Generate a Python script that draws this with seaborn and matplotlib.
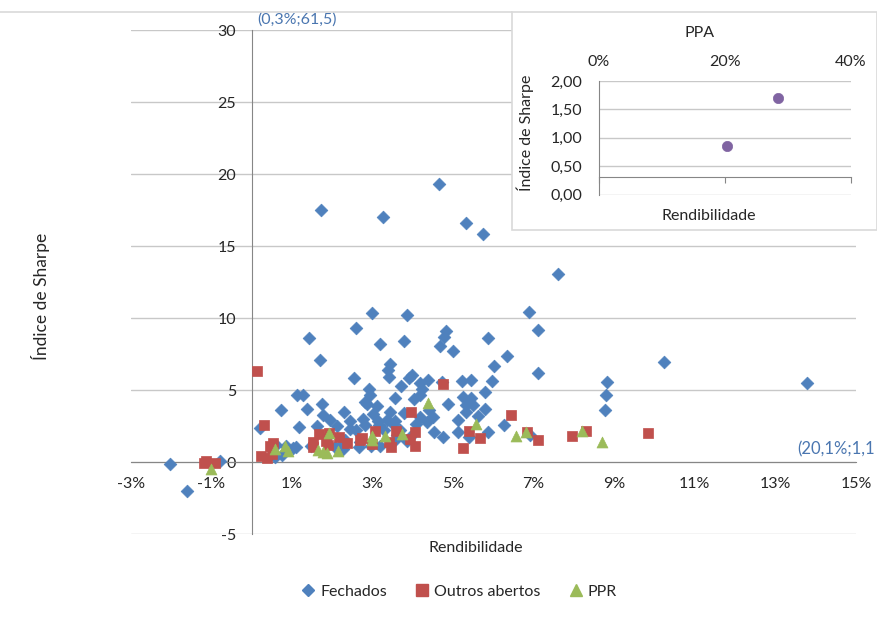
import matplotlib
matplotlib.use("Agg")
import matplotlib.pyplot as plt
import pandas as pd
import seaborn as sns
from matplotlib.lines import Line2D
from matplotlib.patches import Rectangle

# Rendibilidade (%) e Indice de Sharpe por fundo
fech_x = [4.65, 1.72, 3.26, 5.32, 5.74, 7.60, 6.89, 2.99, 3.86, 7.10, 2.59, 4.83, 4.78, 1.43,
          5.87, 3.79, 3.19, 4.67, 4.99, 1.69, 6.34, 6.01, 10.24, 3.43, 7.11, 3.98, 3.39, 3.41,
          2.54, 3.91, 4.38, 4.17, 3.71, 5.45, 5.22, 4.73, 8.82, 13.78, 5.97, 4.17, 4.24, 2.91,
          2.94, 1.13, 1.28, 8.79, 5.25, 5.45, 5.80, 2.81, 2.86, 3.12, 1.75, 3.56, 4.04, 4.88,
          5.32, 5.50, 0.73, 1.37, 1.78, 2.30, 3.44, 3.79, 4.41, 5.80, 8.76, 5.32, 5.62, 4.19,
          4.50, 2.44, 3.13, 3.56, 4.36, 5.12, 1.18, 0.21, 1.62, 2.12, 2.81, 3.16, 3.51, 6.26,
          4.08, 2.44, 2.59, 3.29, 3.68, 4.53, 5.12, 5.87, 6.91, 1.87, 2.32, 2.69, 3.56, 3.93,
          4.75, 5.40, 1.48, 2.07, 2.27, 2.67, 2.96, 0.85, 1.03, 0.60, 0.76, 0.58, 1.10, 3.86,
          3.19, 2.76, 3.02, 3.35, 3.62, 2.22, 1.95, -0.78, -2.03, -1.60]
fech_y = [19.3, 17.5, 17.0, 16.6, 15.8, 13.05, 10.4, 10.35, 10.2, 9.2, 9.3, 9.1, 8.7, 8.6,
          8.6, 8.4, 8.2, 8.05, 7.7, 7.1, 7.35, 6.65, 6.95, 6.8, 6.2, 6.05, 6.4, 5.9,
          5.8, 5.8, 5.7, 5.5, 5.3, 5.7, 5.6, 5.55, 5.55, 5.5, 5.6, 4.65, 5.1, 5.07,
          4.65, 4.65, 4.65, 4.65, 4.5, 4.45, 4.85, 4.2, 4.0, 3.9, 4.0, 4.45, 4.35, 4.0,
          3.95, 3.95, 3.6, 3.7, 3.25, 3.5, 3.5, 3.4, 3.6, 3.7, 3.6, 3.5, 3.2, 3.1,
          3.1, 2.85, 2.85, 2.85, 2.8, 2.9, 2.4, 2.35, 2.5, 2.5, 2.55, 2.55, 2.65, 2.55,
          2.65, 2.3, 2.2, 2.2, 2.2, 2.1, 2.1, 2.1, 1.85, 1.75, 1.55, 1.4, 1.55, 1.75,
          1.75, 1.75, 1.1, 1.05, 0.9, 1.05, 1.1, 1.1, 0.95, 1.2, 0.5, 0.35, 1.05, 1.45,
          1.1, 3.0, 3.3, 2.9, 1.9, 1.2, 2.9, 0.05, -0.15, -2.0]

outros_x = [0.13, 4.75, 3.96, 6.45, 0.31, 1.67, 1.92, 3.06, 4.05, 5.39, 6.83, 8.30, 9.84, 7.95,
            2.17, 2.74, 3.59, 5.67, 7.11, 3.93, 0.53, 1.53, 1.85, 2.70, 3.41, 0.46, 3.46, 4.05,
            1.53, 2.37, 1.90, 2.99, 5.25, 0.24, 0.38, 0.51, -1.18, -0.90, -1.13]
outros_y = [6.3, 5.4, 3.45, 3.25, 2.55, 1.95, 2.0, 2.15, 2.1, 2.15, 2.1, 2.15, 2.0, 1.8,
            1.75, 1.65, 2.15, 1.65, 1.5, 1.6, 1.3, 1.4, 1.45, 1.5, 1.4, 1.1, 1.05, 1.1,
            1.05, 1.3, 1.2, 1.25, 0.95, 0.4, 0.3, 0.55, -0.1, -0.1, 0.05]

ppr_x = [4.38, 5.56, 6.80, 6.55, 8.20, 8.70, 3.31, 2.99, 2.99, 1.92, 0.83, 0.58, 0.90, 1.65,
         1.87, 2.15, 1.77, 3.73, -1.00]
ppr_y = [4.1, 2.65, 2.1, 1.8, 2.15, 1.4, 1.8, 1.8, 1.5, 2.0, 1.1, 0.9, 0.75, 0.85,
         0.6, 0.75, 0.7, 1.95, -0.5]

ppa_x = [20.3, 28.5]
ppa_y = [0.85, 1.70]

x_ticks = [-3, -1, 1, 3, 5, 7, 9, 11, 13, 15]
y_ticks = [-5, 0, 5, 10, 15, 20, 25, 30]
ppa_xticks = [0, 20, 40]
ppa_yticks = [0, 0.5, 1.0, 1.5, 2.0]

blue = "#4F81BD"
red = "#C0504D"
green = "#9BBB59"
purple = "#8064A2"
axis_grey = "#868686"
grid_grey = "#C8C8C8"
txt = "#262626"

sns.set_style("white")
plt.rcParams['font.family'] = ['Lato', 'DejaVu Sans']

fig = plt.figure(figsize=(8.77, 6.17), dpi=100)
W, H = 877, 617

def fx(px):
    return px / W

def fy(py):
    return 1 - py / H

# outer chart border (top edge)
fig.add_artist(Line2D([0, fx(512)], [fy(11.5), fy(11.5)], color="#D9D9D9", lw=1.2))

ax = fig.add_axes([fx(130.7), fy(534), fx(856 - 130.7), (534 - 30) / H])

fech = pd.DataFrame({"x": fech_x, "y": fech_y})
outros = pd.DataFrame({"x": outros_x, "y": outros_y})
ppr = pd.DataFrame({"x": ppr_x, "y": ppr_y})

sns.scatterplot(data=fech, x="x", y="y", ax=ax, marker="D", s=42, color=blue,
                edgecolor=blue, linewidth=0.5, zorder=3)
sns.scatterplot(data=outros, x="x", y="y", ax=ax, marker="s", s=58, color=red,
                edgecolor=red, linewidth=0.5, zorder=4)
sns.scatterplot(data=ppr, x="x", y="y", ax=ax, marker="^", s=62, color=green,
                edgecolor=green, linewidth=0.5, zorder=5)

ax.set_xlim(-3, 15)
ax.set_ylim(-5, 30)
ax.set_xticks(x_ticks)
ax.set_xticklabels([f"{v}%" for v in x_ticks])
ax.set_yticks(y_ticks)
ax.set_yticklabels([str(v) for v in y_ticks])
ax.set_xlabel("")
ax.set_ylabel("")
ax.yaxis.grid(True, color=grid_grey, lw=1)
ax.xaxis.grid(False)
ax.set_axisbelow(True)

for side in ["top", "right"]:
    ax.spines[side].set_visible(False)
ax.spines["left"].set_position(("data", 0))
ax.spines["bottom"].set_position(("data", 0))
ax.spines["left"].set_color(axis_grey)
ax.spines["bottom"].set_color(axis_grey)
ax.spines["left"].set_zorder(2)
ax.spines["bottom"].set_zorder(2)

ax.tick_params(axis="x", length=5, width=1, color=axis_grey, direction="out", pad=6,
               labelsize=11.5, labelcolor=txt)
ax.tick_params(axis="y", length=0, pad=11, labelsize=11.5, labelcolor=txt)

# labels for the two off-scale funds (text as shown in the chart)
ax.text(0.15, 30.72, "(0,3%;61,5)", color="#4A76B0", fontsize=11.5, ha="left",
        va="center", clip_on=False)
ax.text(13.53, 0.9, "(20,1%;1,1", color="#4A76B0", fontsize=12, ha="left",
        va="center", clip_on=False)

fig.text(fx(40), fy(296), "Índice de Sharpe", rotation=90, ha="center", va="center",
         fontsize=12.5, color=txt)
fig.text(fx(476), fy(548), "Rendibilidade", ha="center", va="center",
         fontsize=11.5, color=txt)

handles = [
    Line2D([], [], marker="D", ls="", color=blue, markersize=6),
    Line2D([], [], marker="s", ls="", color=red, markersize=8),
    Line2D([], [], marker="^", ls="", color=green, markersize=8),
]
fig.legend(handles, ["Fechados", "Outros abertos", "PPR"], loc="center",
           bbox_to_anchor=(fx(458), fy(592)), ncol=3, frameon=False,
           handletextpad=0.15, columnspacing=1.6, handlelength=1.2,
           fontsize=11.5, labelcolor=txt)

# inset: PPA
fig.add_artist(Rectangle((fx(512), fy(230)), (877 - 512) / W, 218 / H,
                         transform=fig.transFigure, facecolor="white",
                         edgecolor="#D9D9D9", lw=1.2, zorder=5))

ax2 = fig.add_axes([fx(598.7), fy(194.7), 252 / W, 113.7 / H])
ax2.set_zorder(6)
ax2.patch.set_alpha(0)
ppa = pd.DataFrame({"x": ppa_x, "y": ppa_y})
sns.scatterplot(data=ppa, x="x", y="y", ax=ax2, marker="o", s=55, color=purple,
                edgecolor=purple, linewidth=0.5, zorder=4)
ax2.set_xlim(0, 40)
ax2.set_ylim(0, 2)
ax2.set_xticks(ppa_xticks)
ax2.set_xticklabels([f"{v}%" for v in ppa_xticks])
ax2.set_yticks(ppa_yticks)
ax2.set_yticklabels([f"{v:.2f}".replace(".", ",") for v in ppa_yticks])
ax2.set_xlabel("")
ax2.set_ylabel("")
ax2.yaxis.grid(True, color=grid_grey, lw=1)
ax2.set_axisbelow(True)
for side in ["top", "right"]:
    ax2.spines[side].set_visible(False)
ax2.spines["bottom"].set_position(("data", 0.31))
ax2.spines["bottom"].set_color(axis_grey)
ax2.spines["left"].set_color(axis_grey)
ax2.tick_params(axis="x", bottom=True, top=False, labelbottom=False, labeltop=True,
                length=4, color=axis_grey, direction="out", pad=5,
                labelsize=11.5, labelcolor=txt)
ax2.tick_params(axis="y", length=0, pad=12, labelsize=11.5, labelcolor=txt)

fig.text(fx(700), fy(33), "PPA", ha="center", va="center", fontsize=11.5, color=txt,
         zorder=7)
fig.text(fx(525), fy(133), "Índice de Sharpe", rotation=90, ha="center", va="center",
         fontsize=11.5, color=txt, zorder=7)
fig.text(fx(709), fy(216), "Rendibilidade", ha="center", va="center", fontsize=11.5,
         color=txt, zorder=7)

fig.savefig("out.png", dpi=100)
